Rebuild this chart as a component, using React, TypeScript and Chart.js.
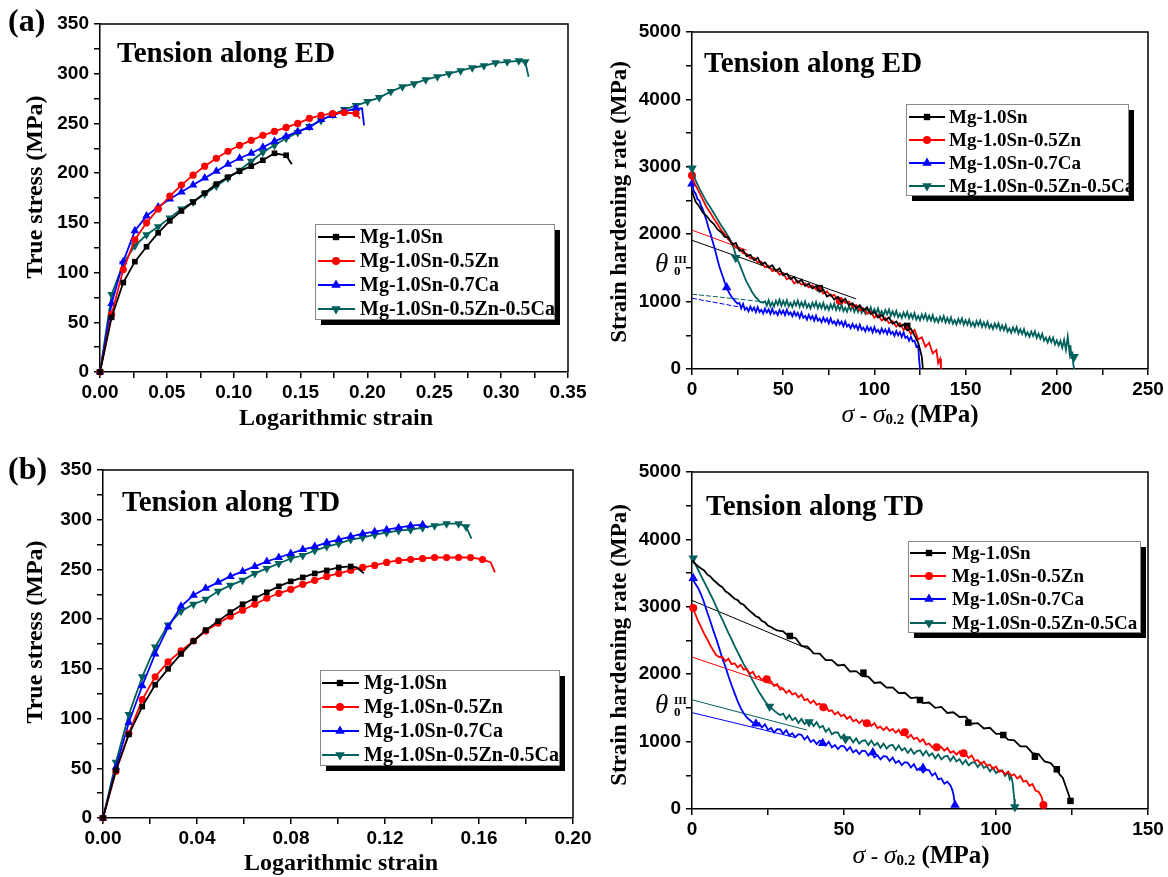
import React, { useEffect, useRef } from 'react';
import { Chart, registerables } from 'chart.js';

Chart.register(...registerables);

const W = 1168;
const H = 877;

const NAMES = ['Mg-1.0Sn', 'Mg-1.0Sn-0.5Zn', 'Mg-1.0Sn-0.7Ca', 'Mg-1.0Sn-0.5Zn-0.5Ca'];
const COLORS = ['#000000', '#ff0000', '#0000ff', '#00605c'];
const STYLES = ['rect', 'circle', 'triangle', 'triangleDown'];

// ---------- (a) left: true stress vs logarithmic strain, ED ----------
const ED_SN = [[0,0],[0.0087,55],[0.0174,90],[0.0261,111],[0.0348,126],[0.0435,140],[0.0522,152],[0.0609,162],[0.0696,171],[0.0783,180],[0.087,189],[0.0957,196],[0.1044,202],[0.1131,207],[0.1218,213],[0.1305,220],[0.1392,218]];
const ED_SN_TAIL = [[0.1434,209]];
const ED_ZN = [[0,0],[0.0087,58],[0.0174,103],[0.0261,133],[0.0348,150],[0.0435,164],[0.0522,177],[0.0609,188],[0.0696,198],[0.0783,207],[0.087,215],[0.0957,222],[0.1044,228],[0.1131,233],[0.1218,238],[0.1305,242],[0.1392,246],[0.1479,250],[0.1566,255],[0.1653,258],[0.174,260],[0.1827,261],[0.1914,260]];
const ED_ZN_TAIL = [[0.1945,255]];
const ED_CA = [[0,0],[0.0087,69],[0.0174,111],[0.0261,142],[0.0348,157],[0.0435,166],[0.0522,174],[0.0609,181],[0.0696,188],[0.0783,195],[0.087,202],[0.0957,209],[0.1044,215],[0.1131,220],[0.1218,226],[0.1305,232],[0.1392,237],[0.1479,242],[0.1566,246],[0.1653,254],[0.174,258],[0.1827,262],[0.1914,265]];
const ED_CA_TAIL = [[0.196,265],[0.1975,248]];
const ED_ZNCA = [[0,0],[0.0087,78],[0.0174,109],[0.0261,127],[0.0348,138],[0.0435,146],[0.0522,155],[0.0609,164],[0.0696,171],[0.0783,179],[0.087,187],[0.0957,195],[0.1044,203],[0.1131,212],[0.1218,221],[0.1305,228],[0.1392,235],[0.1479,241],[0.1566,247],[0.1653,253],[0.174,259],[0.1827,264],[0.1914,268],[0.2001,272],[0.2088,276],[0.2175,282],[0.2262,287],[0.2349,290],[0.2436,294],[0.2523,297],[0.261,300],[0.2697,303],[0.2784,306],[0.2871,308],[0.2958,311],[0.3045,312],[0.3132,313],[0.318,312]];
const ED_ZNCA_TAIL = [[0.3205,297]];

// ---------- (b) left: true stress vs logarithmic strain, TD ----------
const TD_SN = [[0,0],[0.0055,48],[0.011,84],[0.0167,112],[0.0222,134],[0.0277,150],[0.0332,165],[0.0385,178],[0.0437,189],[0.049,198],[0.0542,207],[0.0594,215],[0.0646,221],[0.0697,227],[0.0748,233],[0.0799,238],[0.085,242],[0.0901,246],[0.0952,249],[0.1003,252],[0.1054,253]];
const TD_SN_TAIL = [[0.108,252],[0.111,246]];
const TD_ZN = [[0,0],[0.0055,47],[0.011,85],[0.0167,119],[0.0222,142],[0.0277,157],[0.0332,168],[0.0385,178],[0.0437,188],[0.049,196],[0.0542,203],[0.0594,209],[0.0646,215],[0.0697,221],[0.0748,226],[0.0799,230],[0.085,235],[0.0901,239],[0.0952,243],[0.1003,246],[0.1054,249],[0.1105,252],[0.1156,254],[0.1207,257],[0.1258,259],[0.1309,260],[0.136,261],[0.1411,262],[0.1462,262],[0.1513,262],[0.1564,262],[0.1615,260]];
const TD_ZN_TAIL = [[0.165,257],[0.1668,247]];
const TD_CA = [[0,0],[0.0055,51],[0.011,96],[0.0167,133],[0.0222,165],[0.0277,192],[0.0332,213],[0.0385,224],[0.0437,231],[0.049,237],[0.0542,243],[0.0594,248],[0.0646,253],[0.0697,258],[0.0748,262],[0.0799,266],[0.085,270],[0.0901,273],[0.0952,277],[0.1003,280],[0.1054,283],[0.1105,286],[0.1156,288],[0.1207,290],[0.1258,292],[0.1309,294],[0.136,295]];
const TD_CA_TAIL = [[0.1385,292]];
const TD_ZNCA = [[0,0],[0.0055,56],[0.011,104],[0.0167,142],[0.0222,172],[0.0277,194],[0.0332,208],[0.0385,215],[0.0437,220],[0.049,228],[0.0542,234],[0.0594,239],[0.0646,246],[0.0697,251],[0.0748,256],[0.0799,261],[0.085,264],[0.0901,269],[0.0952,273],[0.1003,276],[0.1054,280],[0.1105,282],[0.1156,285],[0.1207,287],[0.1258,289],[0.1309,290],[0.136,292],[0.1411,294],[0.1462,296],[0.1513,296],[0.1545,293]];
const TD_ZNCA_TAIL = [[0.1568,281]];

// ---------- (a) right: strain hardening rate vs sigma - sigma0.2, ED ----------
const ED_SN_THETA = [[0,2650],[1,2560],[2,2480],[4,2410],[6,2320],[8,2270],[10,2200],[12,2150],[14,2070],[16,2030],[18,1960],[20,1955],[22,1845],[24,1870],[26,1755],[28,1765],[30,1675],[32,1695],[34,1615],[36,1650],[38,1550],[40,1580],[42,1505],[44,1540],[46,1455],[48,1495],[50,1390],[52,1415],[54,1335],[56,1365],[58,1280],[60,1325],[62,1230],[64,1265],[66,1195],[68,1230],[70,1145],[72,1180],[74,1075],[76,1105],[78,1030],[80,1070],[82,995],[84,1040],[86,945],[88,975],[90,905],[92,945],[94,870],[96,915],[98,815],[100,845],[102,765],[104,800],[106,720],[108,765],[110,670],[112,705],[114,630],[116,660],[118,575],[120,600],[122,500],[124,390],[125,290],[126,180],[126.6,0]];
const ED_ZN_THETA = [[0,2870],[1,2780],[2,2720],[4,2620],[6,2510],[8,2400],[10,2320],[12,2230],[14,2150],[16,2060],[18,2000],[20,1920],[22,1870],[24,1800],[26,1790],[28,1720],[30,1710],[32,1640],[34,1650],[36,1580],[38,1590],[40,1510],[42,1530],[44,1450],[46,1470],[48,1400],[50,1420],[52,1330],[54,1360],[56,1270],[58,1310],[60,1250],[62,1270],[64,1210],[66,1240],[68,1180],[70,1210],[72,1120],[74,1150],[76,1080],[78,1100],[80,1020],[82,1050],[84,980],[86,1000],[88,920],[90,950],[92,870],[94,900],[96,820],[98,850],[100,760],[102,800],[104,720],[106,760],[108,680],[110,710],[112,630],[114,680],[116,580],[118,620],[120,520],[122,580],[124,440],[126,470],[128,330],[130,390],[132,230],[134,280],[135,90],[136,150],[136.5,0]];
const ED_CA_THETA = [[0,2750],[1,2640],[2,2600],[3,2520],[4,2500],[5,2420],[6,2360],[7,2280],[8,2200],[9,2100],[10,2020],[11,1920],[12,1830],[13,1730],[14,1620],[15,1520],[16,1440],[17,1360],[18,1280],[19,1210],[20,1150],[21,1100],[22,1060],[23,1030],[24,995],[25,970],[26,980],[27,900],[28,965],[29,880],[30,910],[31,856],[32,926],[33,867],[34,912],[35,843],[36,919],[37,845],[38,877],[39,824],[40,896],[41,837],[42,884],[43,816],[44,892],[45,820],[46,853],[47,802],[48,875],[49,819],[50,867],[51,800],[52,879],[53,807],[54,839],[55,783],[56,852],[57,790],[58,834],[59,763],[60,836],[61,760],[62,789],[63,732],[64,802],[65,742],[66,787],[67,717],[68,792],[69,717],[70,747],[71,692],[72,762],[73,702],[74,747],[75,677],[76,752],[77,677],[78,707],[79,652],[80,722],[81,662],[82,705],[83,634],[84,707],[85,631],[86,659],[87,603],[88,671],[89,610],[90,653],[91,583],[92,658],[93,583],[94,613],[95,559],[96,629],[97,569],[98,614],[99,544],[100,621],[101,548],[102,580],[103,527],[104,599],[105,541],[106,587],[107,519],[108,596],[109,521],[110,550],[111,494],[112,563],[113,501],[114,545],[115,474],[116,545],[117,461],[118,482],[119,418],[120,479],[121,410],[122,420],[123,330],[124,350],[124.5,150],[125,0]];
const ED_ZNCA_THETA = [[0,2980],[1,2870],[2,2800],[3,2740],[4,2680],[6,2580],[8,2480],[10,2400],[12,2310],[14,2220],[16,2130],[18,2050],[20,1960],[22,1860],[23,1780],[24,1690],[25,1620],[26,1560],[27,1490],[28,1420],[29,1350],[30,1290],[31,1240],[32,1190],[33,1140],[34,1100],[35,1060],[36,1040],[37,1000],[38,990],[39,985],[40,1005],[41,940],[42,1021],[43,931],[44,987],[45,927],[46,1013],[47,953],[48,1029],[49,939],[50,1010],[51,943],[52,1021],[53,929],[54,982],[55,920],[56,1003],[57,942],[58,1015],[59,923],[60,991],[61,924],[62,1002],[63,910],[64,963],[65,900],[66,983],[67,921],[68,993],[69,901],[70,969],[71,901],[72,979],[73,887],[74,940],[75,877],[76,960],[77,897],[78,969],[79,876],[80,944],[81,876],[82,953],[83,860],[84,912],[85,849],[86,931],[87,869],[88,941],[89,848],[90,915],[91,847],[92,925],[93,832],[94,884],[95,822],[96,904],[97,841],[98,914],[99,821],[100,888],[101,821],[102,898],[103,805],[104,858],[105,795],[106,876],[107,812],[108,883],[109,790],[110,856],[111,787],[112,863],[113,769],[114,820],[115,757],[116,838],[117,774],[118,845],[119,752],[120,819],[121,751],[122,828],[123,735],[124,788],[125,725],[126,807],[127,744],[128,816],[129,723],[130,790],[131,722],[132,798],[133,705],[134,757],[135,694],[136,775],[137,712],[138,784],[139,691],[140,757],[141,689],[142,766],[143,673],[144,724],[145,661],[146,743],[147,680],[148,751],[149,658],[150,725],[151,657],[152,733],[153,640],[154,692],[155,628],[156,710],[157,647],[158,718],[159,625],[160,692],[161,623],[162,700],[163,607],[164,658],[165,595],[166,674],[167,609],[168,678],[169,582],[170,647],[171,576],[172,650],[173,555],[174,604],[175,538],[176,618],[177,552],[178,621],[179,526],[180,590],[181,519],[182,592],[183,496],[184,544],[185,478],[186,556],[187,490],[188,558],[189,462],[190,525],[191,450],[192,520],[193,420],[194,465],[195,395],[196,470],[197,400],[198,465],[199,365],[200,425],[201,348],[202,416],[203,314],[204,432],[205,285],[206,480],[207,240],[207.5,350],[208,150],[208.5,260],[209,80],[209.5,0]];
const ED_SN_MARKS = [[70,1200],[118,640]];
const ED_ZN_MARKS = [[0,2870],[81,1010]];
const ED_CA_MARKS = [[0,2750],[19,1210]];
const ED_ZNCA_MARKS = [[0,2980],[24,1650],[209.5,180]];
const ED_SN_FIT = [[0,1910],[90,1040]];
const ED_ZN_FIT = [[0,2060],[30,1763]];
const ED_CA_FIT = [[0,1050],[26,920]];
const ED_ZNCA_FIT = [[0,1110],[40,995]];

// ---------- (b) right: strain hardening rate vs sigma - sigma0.2, TD ----------
const TD_SN_THETA = [[0,3690],[1,3640],[2,3600],[3,3570],[4,3540],[5,3480],[6,3450],[7,3400],[8,3360],[9,3320],[10,3290],[11,3230],[12,3200],[13,3160],[14,3120],[15,3100],[16,3050],[17,3030],[18,2980],[19,2940],[20,2900],[21,2860],[22,2840],[23,2790],[24,2770],[25,2720],[26,2700],[27,2670],[28,2650],[30,2635],[32,2550],[34,2540],[36,2420],[38,2410],[40,2310],[42,2305],[44,2210],[46,2210],[48,2130],[50,2140],[52,2040],[54,2045],[56,1970],[58,1965],[60,1870],[62,1880],[64,1800],[66,1805],[68,1720],[70,1725],[72,1645],[74,1655],[76,1570],[78,1580],[80,1500],[82,1515],[84,1425],[86,1435],[88,1365],[90,1370],[92,1265],[94,1275],[96,1195],[98,1205],[100,1115],[102,1115],[104,1030],[106,1020],[108,930],[110,930],[112,830],[114,815],[116,705],[118,680],[119,630],[120,580],[121,510],[122,460],[123,330],[124,200],[124.5,120]];
const TD_ZN_THETA = [[0,3020],[1,2900],[2,2790],[3,2700],[4,2600],[5,2520],[6,2430],[7,2350],[8,2280],[9,2255],[10,2257],[11,2194],[12,2230],[13,2149],[14,2162],[15,2101],[16,2140],[17,2067],[18,2080],[19,2007],[20,2035],[21,1955],[22,1970],[23,1910],[24,1950],[25,1880],[26,1895],[27,1825],[28,1855],[29,1772],[30,1785],[31,1722],[32,1760],[33,1697],[34,1720],[35,1657],[36,1695],[37,1615],[38,1630],[39,1570],[40,1610],[41,1545],[42,1565],[43,1500],[44,1535],[45,1452],[46,1465],[47,1402],[48,1440],[49,1377],[50,1400],[51,1337],[52,1375],[53,1302],[54,1325],[55,1272],[56,1320],[57,1262],[58,1290],[59,1232],[60,1275],[61,1201],[62,1222],[63,1169],[64,1215],[65,1159],[66,1187],[67,1131],[68,1175],[69,1097],[70,1115],[71,1057],[72,1100],[73,1037],[74,1060],[75,997],[76,1035],[77,956],[78,972],[79,914],[80,955],[81,896],[82,922],[83,864],[84,905],[85,834],[86,857],[87,806],[88,855],[89,794],[90,817],[91,756],[92,795],[93,714],[94,727],[95,666],[96,705],[97,640],[98,660],[99,595],[100,630],[101,552],[102,570],[103,512],[104,555],[105,492],[106,515],[107,452],[108,490],[109,407],[110,420],[111,345],[112,370],[113,275],[114,255],[115,180],[115.6,60]];
const TD_CA_THETA = [[0,3420],[1,3350],[2,3280],[3,3180],[4,3060],[5,2920],[6,2790],[7,2650],[8,2520],[9,2380],[10,2230],[11,2110],[12,1970],[13,1840],[14,1720],[15,1600],[16,1500],[17,1420],[18,1360],[19,1320],[20,1280],[21,1265],[22,1280],[23,1209],[24,1258],[25,1172],[26,1201],[27,1135],[28,1185],[29,1180],[30,1115],[31,1170],[32,1090],[33,1125],[34,1065],[35,1110],[36,1100],[37,1030],[38,1080],[39,995],[40,1025],[41,964],[42,1013],[43,1007],[44,941],[45,995],[46,914],[47,949],[48,888],[49,937],[50,931],[51,866],[52,920],[53,840],[54,875],[55,815],[56,865],[57,860],[58,795],[59,848],[60,766],[61,799],[62,737],[63,785],[64,778],[65,711],[66,764],[67,682],[68,715],[69,650],[70,695],[71,685],[72,615],[73,665],[74,580],[75,609],[76,543],[77,586],[78,575],[79,495],[80,535],[81,440],[82,455],[83,375],[84,405],[85,350],[85.5,300],[86,220],[86.5,60]];
const TD_ZNCA_THETA = [[0,3730],[1,3640],[2,3550],[3,3460],[4,3370],[5,3280],[6,3190],[7,3100],[8,3000],[9,2900],[10,2810],[11,2710],[12,2610],[13,2520],[14,2420],[15,2330],[16,2240],[17,2150],[18,2070],[19,1990],[20,1900],[21,1820],[22,1740],[23,1670],[24,1600],[25,1540],[26,1500],[27,1460],[28,1425],[29,1395],[30,1415],[31,1333],[32,1393],[33,1317],[34,1352],[35,1277],[36,1336],[37,1261],[38,1301],[39,1310],[40,1229],[41,1288],[42,1206],[43,1235],[44,1148],[45,1195],[46,1108],[47,1135],[48,1135],[49,1050],[50,1105],[51,1029],[52,1064],[53,988],[54,1047],[55,971],[56,1011],[57,1020],[58,948],[59,1015],[60,943],[61,980],[62,908],[63,970],[64,898],[65,940],[66,951],[67,877],[68,943],[69,869],[70,905],[71,832],[72,893],[73,819],[74,860],[75,871],[76,797],[77,863],[78,789],[79,825],[80,751],[81,812],[82,737],[83,778],[84,789],[85,715],[86,781],[87,707],[88,741],[89,665],[90,724],[91,648],[92,687],[93,696],[94,620],[95,684],[96,608],[97,638],[98,558],[99,613],[100,533],[101,568],[102,575],[103,490],[104,545],[104.5,440],[105,480],[105.5,380],[106,150],[106.2,0]];
const TD_SN_MARKS = [[32.2,2567],[56.4,2023],[75,1617],[90.9,1281],[102.4,1098],[112.8,776],[120,589],[124.5,120]];
const TD_ZN_MARKS = [[0.4,2982],[24.6,1925],[43.2,1510],[57.5,1272],[70,1140],[80.5,915],[89.3,827],[115.6,60]];
const TD_CA_MARKS = [[0.4,3424],[21,1265],[43,975],[59.5,840],[76,610],[86.5,60]];
const TD_ZNCA_MARKS = [[0.4,3720],[25.5,1520],[38.5,1290],[50.5,1040],[106.2,30]];
const TD_SN_FIT = [[0,3095],[39,2360]];
const TD_ZN_FIT = [[0,2255],[30,1796]];
const TD_CA_FIT = [[0,1430],[34,1060]];
const TD_ZNCA_FIT = [[0,1620],[37.7,1172]];

const SERIF = '"Liberation Serif", "Times New Roman", serif';
const SANS = '"Liberation Sans", Arial, sans-serif';

const toXY = (arr: number[][]) => arr.map(([x, y]) => ({ x, y }));

function pointOpts(i: number) {
  const s = STYLES[i];
  return {
    pointStyle: s === 'triangleDown' ? 'triangle' : s,
    pointRotation: s === 'triangleDown' ? 180 : 0,
  };
}

const SS_SIZES = [4, 3.6, 5, 5];
const TH_SIZES = [4.6, 4, 5.5, 5.5];

function ssDatasets(series: number[][][], tails: number[][][]) {
  return series.map((m, i) => {
    const n = m.length;
    return {
      data: toXY([...m, ...tails[i]]),
      showLine: true,
      borderColor: COLORS[i],
      backgroundColor: COLORS[i],
      pointBackgroundColor: COLORS[i],
      pointBorderColor: COLORS[i],
      borderWidth: 1.8,
      pointBorderWidth: 0,
      pointRadius: (ctx: any) => (ctx.dataIndex < n ? SS_SIZES[i] : 0),
      tension: 0,
      clip: false,
      ...pointOpts(i),
    };
  });
}

function thetaDatasets(curves: number[][][], marks: number[][][], fits: number[][][], dashed: boolean) {
  const out: any[] = [];
  curves.forEach((c, i) => {
    out.push({
      data: toXY(c), showLine: true, borderColor: COLORS[i], backgroundColor: COLORS[i],
      borderWidth: 1.8, pointRadius: 0, tension: 0, clip: false,
    });
  });
  marks.forEach((m, i) => {
    out.push({
      data: toXY(m), showLine: false, backgroundColor: COLORS[i], pointBackgroundColor: COLORS[i],
      pointBorderColor: COLORS[i], pointBorderWidth: 0, pointRadius: TH_SIZES[i], clip: false,
      ...pointOpts(i),
    });
  });
  fits.forEach((f, i) => {
    out.push({
      data: toXY(f), showLine: true, borderColor: COLORS[i], borderWidth: 1, pointRadius: 0,
      borderDash: dashed && (i === 2 || i === 3) ? [5, 2] : [], tension: 0, clip: false,
    });
  });
  return out;
}

function axis(isX: boolean, min: number, max: number, step: number, major: number, digits: number, area: any) {
  return {
    type: 'linear',
    position: isX ? 'bottom' : 'left',
    min,
    max,
    afterFit: (s: any) => {
      if (isX) s.height = H - area.b;
      else s.width = area.l;
    },
    ticks: {
      stepSize: step,
      autoSkip: false,
      maxRotation: 0,
      minRotation: 0,
      includeBounds: true,
      color: '#000',
      padding: isX ? 3 : 5,
      font: { family: SANS, size: 19, weight: 'bold' },
      callback: (v: any) => {
        const k = Number(v) / major;
        return Math.abs(k - Math.round(k)) < 1e-6 ? Number(v).toFixed(digits) : '';
      },
    },
    grid: { display: true, drawOnChartArea: false, drawTicks: true, tickLength: 6, color: '#000', lineWidth: 1.5 },
    border: { display: true, color: '#000', width: 1.5 },
  };
}

function drawMarker(ctx: CanvasRenderingContext2D, style: string, x: number, y: number, r: number, color: string) {
  ctx.save();
  ctx.fillStyle = color;
  ctx.beginPath();
  const s3 = Math.sin(Math.PI / 3);
  if (style === 'rect') {
    const s = r * Math.SQRT1_2;
    ctx.rect(x - s, y - s, 2 * s, 2 * s);
  } else if (style === 'circle') {
    ctx.arc(x, y, r, 0, Math.PI * 2);
  } else if (style === 'triangle') {
    ctx.moveTo(x, y - r);
    ctx.lineTo(x + r * s3, y + r / 2);
    ctx.lineTo(x - r * s3, y + r / 2);
    ctx.closePath();
  } else {
    ctx.moveTo(x, y + r);
    ctx.lineTo(x + r * s3, y - r / 2);
    ctx.lineTo(x - r * s3, y - r / 2);
    ctx.closePath();
  }
  ctx.fill();
  ctx.restore();
}

function drawSigmaTitle(ctx: CanvasRenderingContext2D, cx: number, base: number) {
  const parts = [
    { t: 'σ', f: `italic 26px ${SERIF}`, dy: 0 },
    { t: ' - ', f: `bold 22px ${SERIF}`, dy: 0 },
    { t: 'σ', f: `italic 26px ${SERIF}`, dy: 0 },
    { t: '0.2', f: `bold 15px ${SERIF}`, dy: 2 },
    { t: ' (MPa)', f: `bold 25px ${SERIF}`, dy: 0 },
  ];
  let total = 0;
  parts.forEach((p) => { ctx.font = p.f; total += ctx.measureText(p.t).width; });
  let x = cx - total / 2;
  ctx.textAlign = 'left';
  ctx.textBaseline = 'alphabetic';
  parts.forEach((p) => {
    ctx.font = p.f;
    ctx.fillText(p.t, x, base + p.dy);
    x += ctx.measureText(p.t).width;
  });
}

function drawTheta(ctx: CanvasRenderingContext2D, x: number, base: number) {
  ctx.textAlign = 'left';
  ctx.textBaseline = 'alphabetic';
  ctx.font = `italic 27px ${SERIF}`;
  ctx.fillText('θ', x, base);
  ctx.font = `bold 11px ${SERIF}`;
  ctx.fillText('III', x + 19, base - 9);
  ctx.font = `bold 13px ${SERIF}`;
  ctx.fillText('0', x + 19, base + 3);
}

function decor(p: any) {
  return {
    id: 'decor',
    afterDraw(chart: any) {
      const ctx: CanvasRenderingContext2D = chart.ctx;
      const a = chart.chartArea;
      ctx.save();
      ctx.strokeStyle = '#000';
      ctx.lineWidth = 1.5;
      ctx.beginPath();
      ctx.moveTo(a.left, a.top);
      ctx.lineTo(a.right, a.top);
      ctx.lineTo(a.right, a.bottom);
      ctx.stroke();

      ctx.fillStyle = '#000';
      ctx.textAlign = 'left';
      ctx.textBaseline = 'alphabetic';
      ctx.font = `bold 29px ${SERIF}`;
      ctx.fillText(p.title, p.titleX, p.titleY);

      if (p.panel) {
        ctx.font = `bold 32px ${SERIF}`;
        ctx.fillText(p.panel.t, p.panel.x, p.panel.y);
      }

      ctx.save();
      ctx.translate(p.yt.x, p.yt.y);
      ctx.rotate(-Math.PI / 2);
      ctx.font = `bold ${p.yt.size}px ${SERIF}`;
      ctx.textAlign = 'center';
      ctx.textBaseline = 'middle';
      ctx.fillText(p.yt.t, 0, 0);
      ctx.restore();

      if (p.xt.sigma) {
        drawSigmaTitle(ctx, p.xt.x, p.xt.y);
      } else {
        ctx.font = `bold 24px ${SERIF}`;
        ctx.textAlign = 'center';
        ctx.textBaseline = 'alphabetic';
        ctx.fillText(p.xt.t, p.xt.x, p.xt.y);
      }

      if (p.theta) drawTheta(ctx, p.theta.x, p.theta.y);

      const L = p.legend;
      ctx.fillStyle = '#000';
      ctx.fillRect(L.x + 6, L.y + 6, L.w, L.h);
      ctx.fillStyle = '#fff';
      ctx.fillRect(L.x, L.y, L.w, L.h);
      ctx.strokeStyle = '#888';
      ctx.lineWidth = 1;
      ctx.strokeRect(L.x + 0.5, L.y + 0.5, L.w, L.h);
      NAMES.forEach((name, i) => {
        const y = L.rows[i];
        ctx.strokeStyle = COLORS[i];
        ctx.lineWidth = 2;
        ctx.beginPath();
        ctx.moveTo(L.l0, y);
        ctx.lineTo(L.l1, y);
        ctx.stroke();
        drawMarker(ctx, STYLES[i], L.m, y, [4.5, 4, 5.5, 5.5][i], COLORS[i]);
        ctx.fillStyle = '#000';
        ctx.font = `bold ${L.fs}px ${SERIF}`;
        ctx.textAlign = 'left';
        ctx.textBaseline = 'middle';
        ctx.fillText(name, L.tx, y + 1);
      });
      ctx.restore();
    },
  };
}

const A_L = { l: 100, t: 24, r: 568, b: 372 };
const A_R = { l: 692, t: 32, r: 1148, b: 369 };
const B_L = { l: 103, t: 470, r: 573, b: 818 };
const B_R = { l: 692, t: 472, r: 1148, b: 809 };

function makePanels() {
  return [
    {
      area: A_L,
      x: axis(true, 0, 0.35, 0.025, 0.05, 2, A_L),
      y: axis(false, 0, 350, 25, 50, 0, A_L),
      datasets: ssDatasets([ED_SN, ED_ZN, ED_CA, ED_ZNCA], [ED_SN_TAIL, ED_ZN_TAIL, ED_CA_TAIL, ED_ZNCA_TAIL]),
      deco: {
        title: 'Tension along ED', titleX: 117, titleY: 62,
        panel: { t: '(a)', x: 8, y: 31 },
        yt: { t: 'True stress (MPa)', x: 36, y: 187, size: 24 },
        xt: { t: 'Logarithmic strain', x: 336, y: 425 },
        legend: { x: 315, y: 224, w: 239, h: 95, rows: [237, 261, 285, 309], l0: 318, l1: 355, m: 336, tx: 360, fs: 20 },
      },
    },
    {
      area: A_R,
      x: axis(true, 0, 250, 25, 50, 0, A_R),
      y: axis(false, 0, 5000, 500, 1000, 0, A_R),
      datasets: thetaDatasets(
        [ED_SN_THETA, ED_ZN_THETA, ED_CA_THETA, ED_ZNCA_THETA],
        [ED_SN_MARKS, ED_ZN_MARKS, ED_CA_MARKS, ED_ZNCA_MARKS],
        [ED_SN_FIT, ED_ZN_FIT, ED_CA_FIT, ED_ZNCA_FIT], true),
      deco: {
        title: 'Tension along ED', titleX: 704, titleY: 72,
        yt: { t: 'Strain hardening rate (MPa)', x: 620, y: 202, size: 23 },
        xt: { sigma: true, x: 910, y: 422 },
        theta: { x: 655, y: 272 },
        legend: { x: 906, y: 104, w: 222, h: 91, rows: [117, 140, 163, 186], l0: 909, l1: 945, m: 927, tx: 949, fs: 19 },
      },
    },
    {
      area: B_L,
      x: axis(true, 0, 0.2, 0.02, 0.04, 2, B_L),
      y: axis(false, 0, 350, 25, 50, 0, B_L),
      datasets: ssDatasets([TD_SN, TD_ZN, TD_CA, TD_ZNCA], [TD_SN_TAIL, TD_ZN_TAIL, TD_CA_TAIL, TD_ZNCA_TAIL]),
      deco: {
        title: 'Tension along TD', titleX: 122, titleY: 511,
        panel: { t: '(b)', x: 8, y: 479 },
        yt: { t: 'True stress (MPa)', x: 36, y: 632, size: 24 },
        xt: { t: 'Logarithmic strain', x: 341, y: 870 },
        legend: { x: 320, y: 670, w: 239, h: 95, rows: [683, 707, 731, 755], l0: 322, l1: 359, m: 340, tx: 364, fs: 20 },
      },
    },
    {
      area: B_R,
      x: axis(true, 0, 150, 25, 50, 0, B_R),
      y: axis(false, 0, 5000, 500, 1000, 0, B_R),
      datasets: thetaDatasets(
        [TD_SN_THETA, TD_ZN_THETA, TD_CA_THETA, TD_ZNCA_THETA],
        [TD_SN_MARKS, TD_ZN_MARKS, TD_CA_MARKS, TD_ZNCA_MARKS],
        [TD_SN_FIT, TD_ZN_FIT, TD_CA_FIT, TD_ZNCA_FIT], false),
      deco: {
        title: 'Tension along TD', titleX: 706, titleY: 515,
        yt: { t: 'Strain hardening rate (MPa)', x: 620, y: 645, size: 23 },
        xt: { sigma: true, x: 921, y: 863 },
        theta: { x: 655, y: 713 },
        legend: { x: 908, y: 541, w: 232, h: 91, rows: [553, 576, 599, 623], l0: 910, l1: 946, m: 929, tx: 952, fs: 19 },
      },
    },
  ];
}

export default function App() {
  const refs = [useRef<HTMLCanvasElement>(null), useRef<HTMLCanvasElement>(null), useRef<HTMLCanvasElement>(null), useRef<HTMLCanvasElement>(null)];

  useEffect(() => {
    const panels = makePanels();
    const charts: Chart[] = [];
    panels.forEach((p, i) => {
      const c = refs[i].current;
      if (!c) return;
      const chart = new Chart(c, {
        type: 'scatter',
        data: { datasets: p.datasets as any },
        options: {
          animation: false,
          responsive: false,
          devicePixelRatio: 1,
          events: [],
          layout: { padding: { left: 0, top: p.area.t, right: W - p.area.r, bottom: 0 } },
          plugins: { legend: { display: false }, tooltip: { enabled: false } },
          scales: { x: p.x as any, y: p.y as any },
        } as any,
        plugins: [decor(p.deco)],
      });
      charts.push(chart);
    });
    return () => charts.forEach((ch) => ch.destroy());
  }, []);

  return (
    <div style={{ position: 'absolute', left: 0, top: 0, width: W, height: H, background: '#fff' }}>
      {refs.map((r, i) => (
        <canvas key={i} ref={r} width={W} height={H} style={{ position: 'absolute', left: 0, top: 0, width: W, height: H }} />
      ))}
    </div>
  );
}
